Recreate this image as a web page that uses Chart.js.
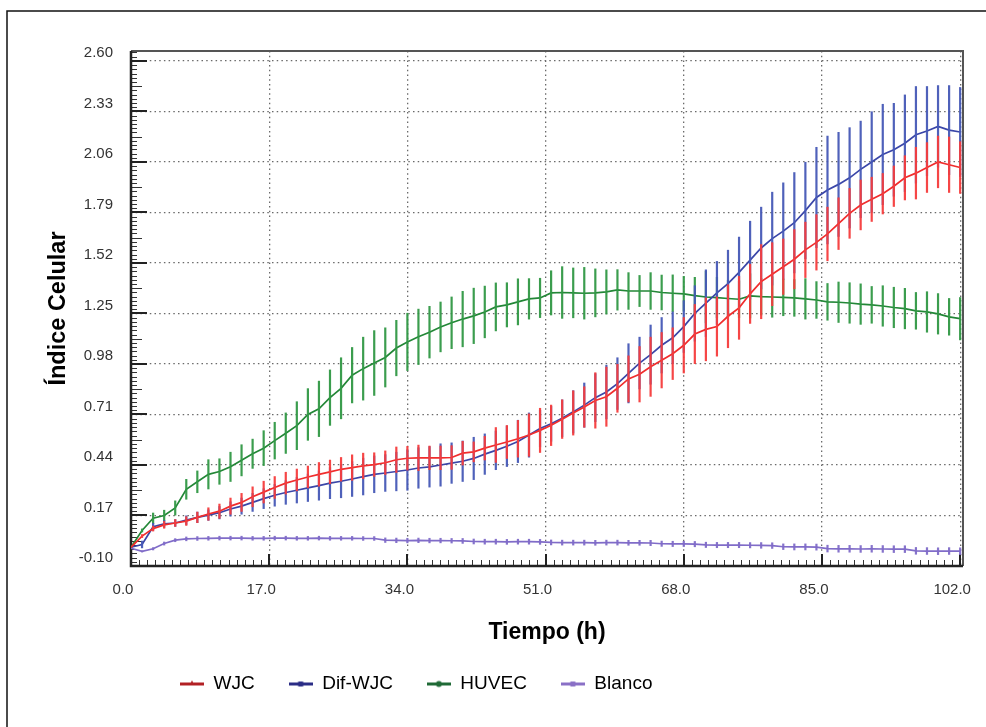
<!DOCTYPE html>
<html><head><meta charset="utf-8">
<script src="https://cdn.jsdelivr.net/npm/chart.js@4.4.1/dist/chart.umd.min.js"></script>
<style>html,body{margin:0;padding:0;background:#fff;}canvas{display:block;}</style>
</head><body>
<canvas id="c" width="986" height="727"></canvas>
<script>
// ---- data ----
const times = [0,1.36,2.72,4.08,5.44,6.8,8.16,9.52,10.88,12.24,13.6,14.96,16.32,17.68,19.04,20.4,21.76,23.12,24.48,25.84,27.2,28.56,29.92,31.28,32.64,34,35.36,36.72,38.08,39.44,40.8,42.16,43.52,44.88,46.24,47.6,48.96,50.32,51.68,53.04,54.4,55.76,57.12,58.48,59.84,61.2,62.56,63.92,65.28,66.64,68,69.36,70.72,72.08,73.44,74.8,76.16,77.52,78.88,80.24,81.6,82.96,84.32,85.68,87.04,88.4,89.76,91.12,92.48,93.84,95.2,96.56,97.92,99.28,100.64,102];

const wjcMean = [0.00,0.06,0.10,0.12,0.13,0.14,0.16,0.178,0.193,0.22,
0.24,0.27,0.295,0.32,0.343,0.36,0.376,0.39,0.403,0.417,
0.426,0.435,0.442,0.452,0.468,0.476,0.478,0.478,0.478,0.48,
0.503,0.51,0.53,0.547,0.563,0.58,0.60,0.625,0.652,0.685,
0.718,0.75,0.785,0.805,0.85,0.90,0.925,0.965,1.0,1.035,
1.08,1.14,1.165,1.18,1.235,1.28,1.355,1.42,1.46,1.50,
1.54,1.59,1.63,1.675,1.73,1.785,1.83,1.86,1.89,1.93,
1.975,2.0,2.03,2.06,2.045,2.03];
const wjcSd = [0,0.01,0.015,0.02,0.02,0.025,0.03,0.035,0.04,0.045,
0.05,0.055,0.06,0.06,0.06,0.06,0.06,0.065,0.065,0.065,
0.07,0.07,0.065,0.065,0.07,0.065,0.07,0.065,0.065,0.065,
0.065,0.055,0.065,0.095,0.09,0.1,0.115,0.12,0.11,0.105,
0.12,0.11,0.15,0.16,0.13,0.125,0.15,0.16,0.15,0.14,
0.15,0.16,0.17,0.16,0.17,0.17,0.16,0.2,0.17,0.15,
0.16,0.15,0.15,0.145,0.14,0.135,0.135,0.12,0.11,0.11,
0.12,0.14,0.135,0.14,0.15,0.14];

const difMean = [0.00,0.015,0.11,0.125,0.13,0.145,0.16,0.172,0.185,0.205,
0.22,0.24,0.26,0.278,0.293,0.305,0.318,0.33,0.343,0.353,
0.365,0.378,0.39,0.397,0.405,0.413,0.424,0.43,0.44,0.45,
0.46,0.475,0.498,0.518,0.54,0.566,0.60,0.635,0.66,0.69,
0.724,0.76,0.80,0.83,0.875,0.93,0.985,1.03,1.08,1.12,
1.18,1.25,1.305,1.36,1.41,1.47,1.535,1.60,1.65,1.69,
1.735,1.80,1.87,1.91,1.94,1.975,2.02,2.06,2.10,2.125,
2.16,2.205,2.225,2.25,2.23,2.22];
const difSd = [0,0.02,0.02,0.02,0.02,0.025,0.03,0.03,0.035,0.04,
0.045,0.05,0.055,0.06,0.065,0.07,0.075,0.08,0.085,0.09,
0.095,0.1,0.1,0.1,0.105,0.11,0.11,0.11,0.115,0.11,
0.11,0.115,0.11,0.105,0.11,0.115,0.12,0.1,0.095,0.1,
0.115,0.12,0.13,0.145,0.14,0.16,0.14,0.16,0.15,0.14,
0.14,0.15,0.18,0.17,0.18,0.19,0.21,0.22,0.25,0.26,
0.27,0.26,0.27,0.29,0.28,0.27,0.26,0.27,0.27,0.25,
0.26,0.26,0.24,0.22,0.24,0.24];

const huvecMean = [0.00,0.09,0.155,0.17,0.21,0.31,0.35,0.39,0.405,0.43,
0.465,0.50,0.53,0.57,0.61,0.65,0.71,0.74,0.80,0.85,
0.92,0.955,0.985,1.015,1.065,1.098,1.125,1.15,1.178,1.20,
1.22,1.237,1.258,1.285,1.296,1.312,1.328,1.333,1.36,1.362,
1.36,1.358,1.36,1.365,1.376,1.37,1.37,1.37,1.362,1.358,
1.355,1.345,1.338,1.335,1.33,1.326,1.344,1.34,1.338,1.336,
1.333,1.328,1.322,1.312,1.31,1.306,1.30,1.296,1.29,1.282,
1.276,1.264,1.258,1.248,1.232,1.222];
const huvecSd = [0,0.01,0.03,0.03,0.04,0.055,0.06,0.08,0.07,0.08,
0.085,0.08,0.095,0.1,0.11,0.13,0.14,0.15,0.15,0.165,
0.15,0.17,0.175,0.16,0.15,0.155,0.15,0.14,0.135,0.14,
0.15,0.15,0.14,0.13,0.12,0.125,0.11,0.107,0.12,0.14,
0.135,0.14,0.13,0.12,0.11,0.1,0.085,0.1,0.095,0.1,
0.095,0.1,0.14,0.11,0.1,0.1,0.12,0.1,0.11,0.1,
0.1,0.11,0.1,0.1,0.11,0.11,0.11,0.1,0.11,0.11,
0.11,0.1,0.11,0.11,0.1,0.115];

const blancoMean = [-0.005,-0.022,-0.008,0.02,0.038,0.045,0.047,0.048,0.049,0.049,
0.049,0.048,0.048,0.049,0.049,0.048,0.048,0.049,0.048,0.048,
0.048,0.047,0.047,0.038,0.037,0.036,0.037,0.036,0.036,0.035,
0.034,0.031,0.03,0.03,0.029,0.03,0.03,0.029,0.026,0.025,
0.025,0.025,0.024,0.025,0.025,0.024,0.024,0.023,0.019,0.018,
0.018,0.017,0.013,0.012,0.012,0.012,0.011,0.01,0.009,0.003,
0.002,0.002,0.001,-0.007,-0.008,-0.008,-0.009,-0.008,-0.009,-0.01,
-0.01,-0.019,-0.02,-0.021,-0.02,-0.021];
const blancoSd = [0,0.005,0.008,0.01,0.01,0.012,0.012,0.012,0.012,0.012,
0.012,0.012,0.012,0.012,0.012,0.012,0.012,0.012,0.012,0.012,
0.012,0.012,0.012,0.014,0.014,0.014,0.014,0.014,0.014,0.014,
0.015,0.015,0.015,0.015,0.015,0.015,0.015,0.015,0.015,0.015,
0.015,0.015,0.015,0.015,0.015,0.015,0.015,0.016,0.016,0.016,
0.016,0.016,0.016,0.016,0.016,0.016,0.016,0.017,0.017,0.017,
0.018,0.018,0.018,0.02,0.02,0.02,0.02,0.02,0.02,0.02,
0.02,0.02,0.02,0.02,0.02,0.02];

const seriesLabels = ['WJC','Dif-WJC','HUVEC','Blanco'];
const xTicks = [0,17,34,51,68,85,102];
const yTicks = [-0.10,0.17,0.44,0.71,0.98,1.25,1.52,1.79,2.06,2.33,2.60];

// ---- styles ----
const FONT = "'Liberation Sans', Arial, sans-serif";
const lineColors = ['rgb(240,45,45)','rgb(58,70,168)','rgb(35,135,55)','rgb(128,108,200)'];
const barColors  = ['rgba(245,60,60,0.95)','rgba(70,88,182,0.95)','rgba(48,152,68,0.95)','rgba(128,108,200,0.95)'];
const legendColors = ['#b22024','#2b2d86','#1f6a36','#8a70c6'];
const markerShapes = ['triangle','square','circle','square'];

function makeMarker(color, shape){
  const c = document.createElement('canvas');
  c.width = 24; c.height = 9;
  const g = c.getContext('2d');
  g.fillStyle = color;
  g.fillRect(0,3,24,3);
  g.beginPath();
  if (shape==='circle'){ g.arc(12,4.5,3,0,Math.PI*2); }
  else if (shape==='triangle'){ g.moveTo(12,1); g.lineTo(15,6); g.lineTo(9,6); g.closePath(); }
  else { g.rect(9.5,2,5,5); }
  g.fill();
  return c;
}
const markers = legendColors.map((c,i)=>makeMarker(c, markerShapes[i]));

const means = [wjcMean, difMean, huvecMean, blancoMean];
const sds = [wjcSd, difSd, huvecSd, blancoSd];

const datasets = seriesLabels.map((lab,i)=>({
  label: lab,
  data: times.map((t,k)=>({x:t, y:means[i][k]})),
  errors: sds[i],
  borderColor: lineColors[i],
  backgroundColor: lineColors[i],
  borderWidth: 1.7,
  pointRadius: 0,
  tension: 0,
  fill: false
}));

const errorBars = {
  id: 'errorBars',
  afterDatasetDraw(chart, args){
    const ds = chart.data.datasets[args.index];
    const xs = chart.scales.x, ys = chart.scales.y, ctx = chart.ctx, a = chart.chartArea;
    ctx.save();
    ctx.beginPath(); ctx.rect(a.left, a.top, a.right-a.left, a.bottom-a.top); ctx.clip();
    ctx.strokeStyle = barColors[args.index];
    ctx.lineWidth = 2.2;
    ds.data.forEach((p,k)=>{
      const e = ds.errors[k];
      if (!e || k === 0) return;
      const x = xs.getPixelForValue(p.x);
      ctx.beginPath();
      ctx.moveTo(x, ys.getPixelForValue(p.y + e));
      ctx.lineTo(x, ys.getPixelForValue(p.y - e));
      ctx.stroke();
    });
    ctx.restore();
  }
};

const frameTicks = {
  id: 'frameTicks',
  beforeDatasetsDraw(chart){
    const ctx = chart.ctx, a = chart.chartArea, xs = chart.scales.x, ys = chart.scales.y;
    ctx.save();
    ctx.strokeStyle = '#333';
    ctx.lineWidth = 1;
    const yStep = 0.27/12;
    for (let j=0; ; j++){
      const v = -0.10 + j*yStep;
      if (v > ys.max + 1e-9) break;
      const y = Math.round(ys.getPixelForValue(v)) + 0.5;
      let len = 6;
      if (j % 12 === 0) continue;
      if (j % 6 === 0) len = 11;
      ctx.beginPath(); ctx.moveTo(a.left, y); ctx.lineTo(a.left+len, y); ctx.stroke();
    }
    for (let h=1; h<=102; h++){
      if (h % 17 === 0) continue;
      const x = Math.round(xs.getPixelForValue(h)) + 0.5;
      ctx.beginPath(); ctx.moveTo(x, a.bottom); ctx.lineTo(x, a.bottom-6); ctx.stroke();
    }
    ctx.lineWidth = 2;
    ctx.strokeStyle = '#222';
    yTicks.forEach(v=>{
      const y = Math.round(ys.getPixelForValue(v));
      ctx.beginPath(); ctx.moveTo(a.left, y); ctx.lineTo(a.left+16, y); ctx.stroke();
    });
    xTicks.forEach(v=>{
      const x = Math.round(xs.getPixelForValue(v));
      ctx.beginPath(); ctx.moveTo(x, a.bottom); ctx.lineTo(x, a.bottom-12); ctx.stroke();
    });
    ctx.lineWidth = 2;
    ctx.strokeStyle = '#555';
    ctx.beginPath();
    ctx.moveTo(a.left, a.top); ctx.lineTo(a.right, a.top); ctx.lineTo(a.right, a.bottom);
    ctx.stroke();
    ctx.lineWidth = 2.5;
    ctx.strokeStyle = '#222';
    ctx.beginPath();
    ctx.moveTo(a.left, a.top); ctx.lineTo(a.left, a.bottom); ctx.lineTo(a.right, a.bottom);
    ctx.stroke();
    ctx.restore();
  },
  beforeDraw(chart){
    const ctx = chart.ctx;
    ctx.save();
    ctx.fillStyle = '#fff';
    ctx.fillRect(0,0,chart.width,chart.height);
    ctx.strokeStyle = '#111';
    ctx.lineWidth = 1.5;
    ctx.beginPath();
    ctx.moveTo(7, chart.height); ctx.lineTo(7, 11); ctx.lineTo(chart.width, 11);
    ctx.stroke();
    ctx.restore();
  },
  afterLayout(chart){
    const lg = chart.legend;
    if (!lg) return;
    const dx = 146 - lg.left;
    lg.left += dx; lg.right += dx;
    const h = lg.bottom - lg.top;
    lg.top = 640.5; lg.bottom = lg.top + h;
  }
};

new Chart(document.getElementById('c'), {
  type: 'line',
  data: { datasets },
  plugins: [frameTicks, errorBars],
  options: {
    responsive: false,
    animation: false,
    devicePixelRatio: 1,
    layout: { padding: { top: 51, right: 23, bottom: 0, left: 0 } },
    plugins: {
      tooltip: { enabled: false },
      legend: {
        position: 'bottom',
        align: 'start',
        labels: {
          usePointStyle: true,
          pointStyleWidth: 24,
          padding: 34,
          color: '#000',
          font: { family: FONT, size: 19 },
          generateLabels(chart){
            const items = Chart.defaults.plugins.legend.labels.generateLabels(chart);
            items.forEach((it,i)=>{ it.pointStyle = markers[i]; it.fontColor = '#000'; });
            return items;
          }
        }
      }
    },
    scales: {
      x: {
        type: 'linear',
        min: 0, max: 102.35,
        afterBuildTicks(s){ s.ticks = xTicks.map(v=>({value:v})); },
        afterFit(s){ s.height = 98; },
        ticks: {
          padding: 0, labelOffset: -8, color: '#333',
          font: { family: FONT, size: 15 },
          maxRotation: 0, autoSkip: false,
          callback: v => Number(v).toFixed(1)
        },
        grid: { drawTicks: true, tickLength: 15, tickColor: 'rgba(0,0,0,0)',
          color: c => c.index === 0 ? 'rgba(0,0,0,0)' : '#6a6a6a', lineWidth: 1.3 },
        border: { display: false, dash: [1.5, 3.2] },
        title: { display: true, text: 'Tiempo (h)', color: '#000',
          font: { family: FONT, size: 23, weight: 'bold' }, padding: { top: 0, bottom: 18 } }
      },
      y: {
        type: 'linear',
        min: -0.10, max: 2.653,
        afterBuildTicks(s){ s.ticks = yTicks.map(v=>({value:v})); },
        afterFit(s){ s.width = 131; },
        ticks: {
          padding: 18, labelOffset: -8, color: '#333',
          font: { family: FONT, size: 15 },
          autoSkip: false,
          callback: v => Number(v).toFixed(2)
        },
        grid: { drawTicks: false, color: c => c.index === 0 ? 'rgba(0,0,0,0)' : '#6a6a6a', lineWidth: 1.3 },
        border: { display: false, dash: [1.5, 3.2] },
        title: { display: true, text: 'Índice Celular', color: '#000',
          font: { family: FONT, size: 23.5, weight: 'bold' }, padding: { top: 44, bottom: 0 } }
      }
    }
  }
});
</script>
</body></html>
